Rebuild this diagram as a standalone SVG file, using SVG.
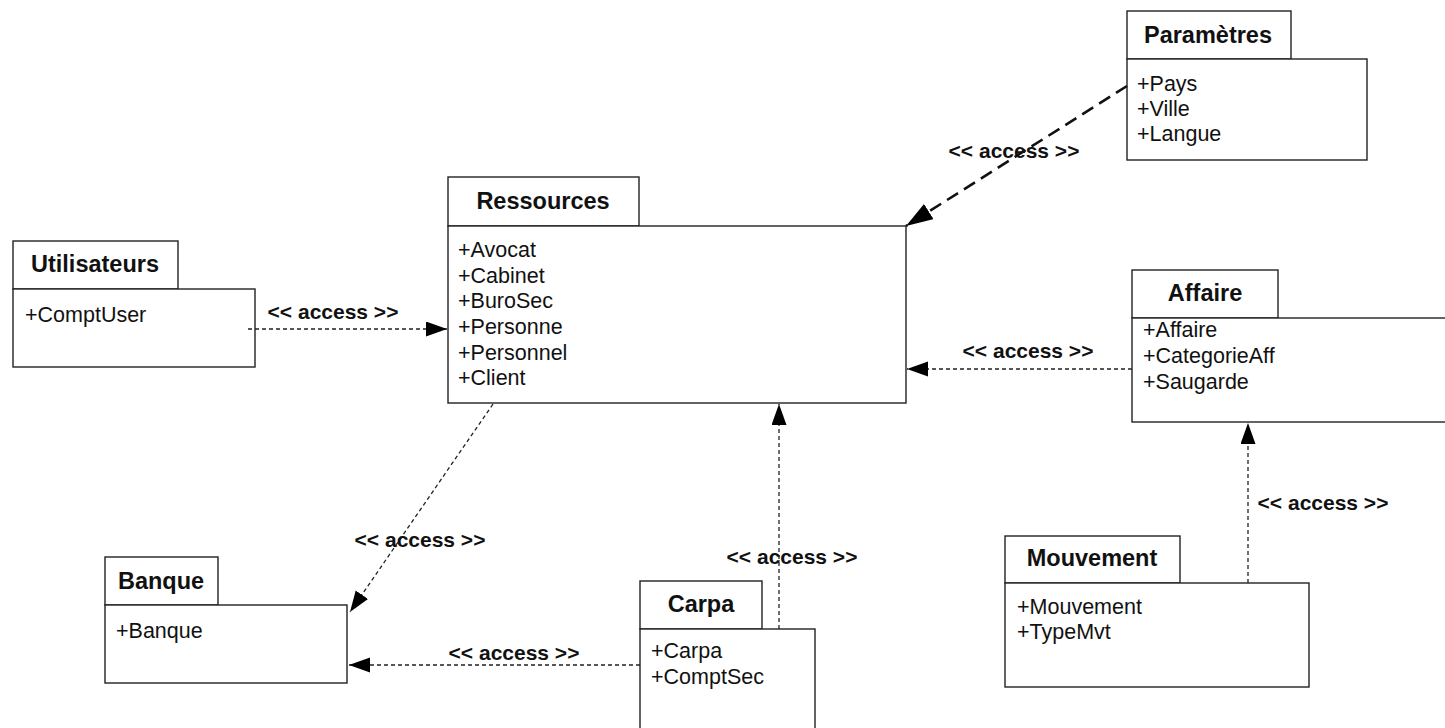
<svg xmlns="http://www.w3.org/2000/svg" width="1445" height="728" viewBox="0 0 1445 728">
  <style>
    .box { fill: #ffffff; stroke: #222222; stroke-width: 1.4; }
    .title { font-family: "Liberation Sans", Arial, sans-serif; font-weight: bold; font-size: 23.5px; fill: #111111; text-anchor: middle; }
    .item { font-family: "Liberation Sans", Arial, sans-serif; font-size: 21.5px; fill: #111111; }
    .label { font-family: "Liberation Sans", Arial, sans-serif; font-weight: bold; font-size: 21px; fill: #111111; text-anchor: middle; }
    .dep { fill: none; stroke: #222222; stroke-width: 1.3; stroke-dasharray: 4 3; marker-end: url(#arrow); }
    .dep-bold { fill: none; stroke: #111111; stroke-width: 2.6; stroke-dasharray: 13 7; marker-end: url(#arrow-big); }
  </style>
  <defs>
    <marker id="arrow" markerUnits="userSpaceOnUse" markerWidth="22" markerHeight="16" refX="21" refY="7.5" orient="auto">
      <path d="M0,0 L21,7.5 L0,15 z" fill="#000000"/>
    </marker>
    <marker id="arrow-big" markerUnits="userSpaceOnUse" markerWidth="28" markerHeight="20" refX="27" refY="9" orient="auto">
      <path d="M0,0 L27,9 L0,18 z" fill="#000000"/>
    </marker>
  </defs>

  <rect width="1445" height="728" fill="#ffffff"/>

  <!-- package: Paramètres -->
  <g id="parametres">
    <rect class="box" x="1127" y="11" width="164" height="48"/>
    <rect class="box" x="1127" y="59" width="240" height="101"/>
    <text class="title" x="1208" y="43">Paramètres</text>
    <text class="item" x="1137" y="91">+Pays</text>
    <text class="item" x="1137" y="116">+Ville</text>
    <text class="item" x="1137" y="141">+Langue</text>
  </g>

  <!-- package: Ressources -->
  <g id="ressources">
    <rect class="box" x="448" y="177" width="191" height="49"/>
    <rect class="box" x="448" y="226" width="458" height="177"/>
    <text class="title" x="543" y="209">Ressources</text>
    <text class="item" x="458" y="257">+Avocat</text>
    <text class="item" x="458" y="283">+Cabinet</text>
    <text class="item" x="458" y="308">+BuroSec</text>
    <text class="item" x="458" y="334">+Personne</text>
    <text class="item" x="458" y="360">+Personnel</text>
    <text class="item" x="458" y="385">+Client</text>
  </g>

  <!-- package: Utilisateurs -->
  <g id="utilisateurs">
    <rect class="box" x="13" y="241" width="165" height="48"/>
    <rect class="box" x="13" y="289" width="242" height="78"/>
    <text class="title" x="95" y="272">Utilisateurs</text>
    <text class="item" x="25" y="322">+ComptUser</text>
  </g>

  <!-- package: Affaire -->
  <g id="affaire">
    <rect class="box" x="1132" y="270" width="146" height="48"/>
    <rect class="box" x="1132" y="318" width="330" height="104"/>
    <text class="title" x="1205" y="301">Affaire</text>
    <text class="item" x="1143" y="337">+Affaire</text>
    <text class="item" x="1143" y="363">+CategorieAff</text>
    <text class="item" x="1143" y="389">+Saugarde</text>
  </g>

  <!-- package: Banque -->
  <g id="banque">
    <rect class="box" x="105" y="557" width="113" height="48"/>
    <rect class="box" x="105" y="605" width="242" height="78"/>
    <text class="title" x="161" y="589">Banque</text>
    <text class="item" x="116" y="638">+Banque</text>
  </g>

  <!-- package: Carpa -->
  <g id="carpa">
    <rect class="box" x="640" y="581" width="122" height="48"/>
    <rect class="box" x="640" y="629" width="175" height="110"/>
    <text class="title" x="701" y="612">Carpa</text>
    <text class="item" x="651" y="658">+Carpa</text>
    <text class="item" x="651" y="684">+ComptSec</text>
  </g>

  <!-- package: Mouvement -->
  <g id="mouvement">
    <rect class="box" x="1005" y="536" width="175" height="47"/>
    <rect class="box" x="1005" y="583" width="304" height="104"/>
    <text class="title" x="1092" y="566">Mouvement</text>
    <text class="item" x="1017" y="614">+Mouvement</text>
    <text class="item" x="1017" y="639">+TypeMvt</text>
  </g>

  <!-- access dependencies -->
  <g id="connectors">
    <line class="dep-bold" x1="1127" y1="86" x2="906" y2="226"/>
    <text class="label" x="1014" y="158">&lt;&lt; access &gt;&gt;</text>

    <line class="dep" x1="248" y1="329" x2="447" y2="329"/>
    <text class="label" x="333" y="319">&lt;&lt; access &gt;&gt;</text>

    <line class="dep" x1="1132" y1="369" x2="907" y2="369"/>
    <text class="label" x="1028" y="358">&lt;&lt; access &gt;&gt;</text>

    <line class="dep" x1="493" y1="404" x2="350" y2="612"/>
    <text class="label" x="420" y="547">&lt;&lt; access &gt;&gt;</text>

    <line class="dep" x1="640" y1="665" x2="349" y2="665"/>
    <text class="label" x="514" y="660">&lt;&lt; access &gt;&gt;</text>

    <line class="dep" x1="779" y1="629" x2="779" y2="404"/>
    <text class="label" x="792" y="564">&lt;&lt; access &gt;&gt;</text>

    <line class="dep" x1="1248" y1="583" x2="1248" y2="423"/>
    <text class="label" x="1323" y="510">&lt;&lt; access &gt;&gt;</text>
  </g>
</svg>
